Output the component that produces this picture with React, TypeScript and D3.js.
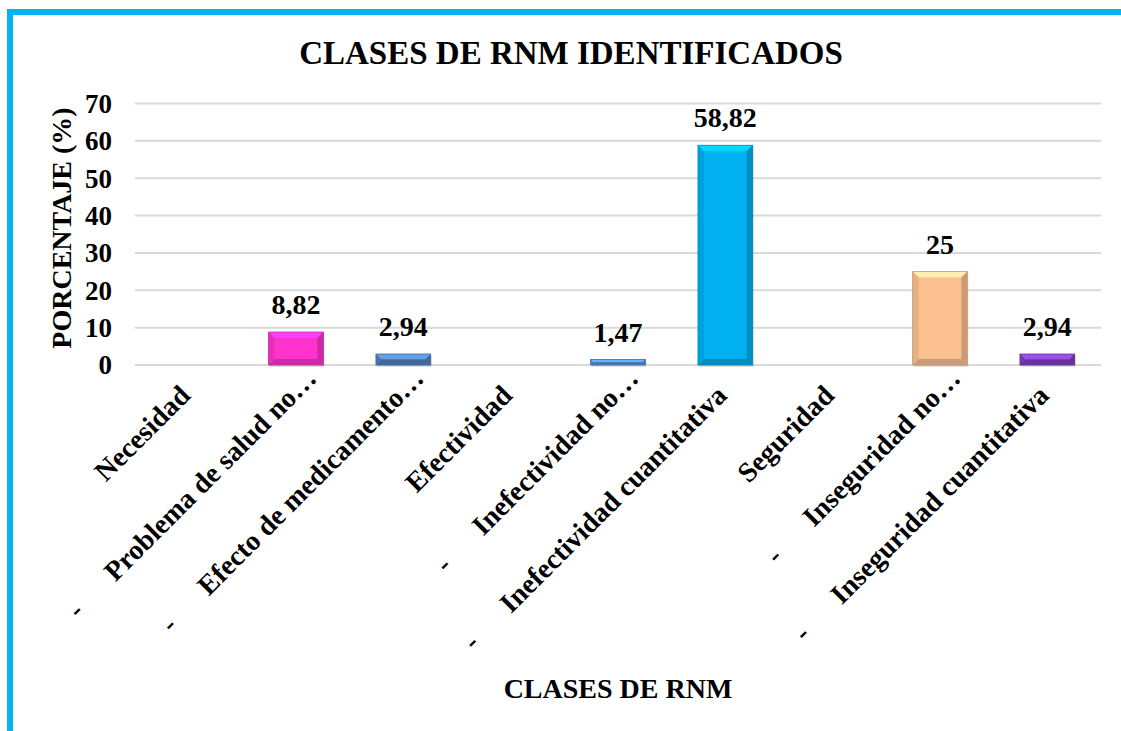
import React from 'react';
import * as d3 from 'd3';

// data
const categories = [
  'Necesidad',
  'Problema de salud no…',
  'Efecto de medicamento…',
  'Efectividad',
  'Inefectividad no…',
  'Inefectividad cuantitativa',
  'Seguridad',
  'Inseguridad no…',
  'Inseguridad cuantitativa',
];
const subItem = [false, true, true, false, true, true, false, true, true];
const values: (number | null)[] = [null, 8.82, 2.94, null, 1.47, 58.82, null, 25, 2.94];
const valueLabels = ['', '8,82', '2,94', '', '1,47', '58,82', '', '25', '2,94'];
const barColors = ['', '#FF33CC', '#4F81BD', '', '#558ED5', '#00B0F0', '', '#FAC090', '#7F3FBF'];
const yTicks = [0, 10, 20, 30, 40, 50, 60, 70];

const W = 1121;
const H = 731;
const FONT = '"Liberation Serif", "Times New Roman", serif';

const x = d3.scaleBand<string>().domain(categories).range([135, 1101]).paddingInner(0.49).paddingOuter(0.245);
const y = d3.scaleLinear().domain([0, 70]).range([365, 103.5]);

const Bar = ({ i }: { i: number }) => {
  const v = values[i];
  if (v == null) return null;
  const bx = x(categories[i]) as number;
  const bw = x.bandwidth();
  const by = y(v);
  const bh = y(0) - by;
  const c = d3.color(barColors[i]) as d3.RGBColor;
  const light = c.brighter(0.6).formatHex();
  const dark = c.darker(0.6).formatHex();
  const mid = c.darker(0.25).formatHex();
  const b = Math.min(6, bh / 2);
  return (
    <g>
      <rect x={bx + 1} y={by + 2} width={bw} height={bh} fill="#000" opacity={0.12} />
      <rect x={bx} y={by} width={bw} height={bh} fill={barColors[i]} />
      <polygon points={`${bx},${by} ${bx + bw},${by} ${bx + bw - b},${by + b} ${bx + b},${by + b}`} fill={light} />
      <polygon points={`${bx},${by + bh} ${bx + bw},${by + bh} ${bx + bw - b},${by + bh - b} ${bx + b},${by + bh - b}`} fill={dark} />
      <polygon points={`${bx},${by} ${bx + b},${by + b} ${bx + b},${by + bh - b} ${bx},${by + bh}`} fill={mid} />
      <polygon points={`${bx + bw},${by} ${bx + bw - b},${by + b} ${bx + bw - b},${by + bh - b} ${bx + bw},${by + bh}`} fill={dark} />
      <rect x={bx} y={by} width={bw} height={bh} fill="none" stroke={dark} strokeWidth={0.8} />
      <text
        x={bx + bw / 2}
        y={by - 18}
        textAnchor="middle"
        fontSize={28}
        fontWeight="bold"
        fontFamily={FONT}
      >
        {valueLabels[i]}
      </text>
    </g>
  );
};

const App = () => {
  return (
    <div style={{ position: 'absolute', left: 0, top: 0 }}>
      <svg width={W} height={H} style={{ display: 'block', background: '#fff' }}>
        <rect x={10} y={12} width={1200} height={800} fill="#fff" stroke="#00B4F0" strokeWidth={6} />

        <text x={571} y={64} textAnchor="middle" fontSize={33} fontWeight="bold" fontFamily={FONT}>
          CLASES DE RNM IDENTIFICADOS
        </text>

        {yTicks.map((t) => (
          <g key={t}>
            <line x1={135} x2={1101} y1={y(t)} y2={y(t)} stroke="#D9D9D9" strokeWidth={2} />
            <text
              x={112}
              y={y(t)}
              dy="0.35em"
              textAnchor="end"
              fontSize={27}
              fontWeight="bold"
              fontFamily={FONT}
            >
              {t}
            </text>
          </g>
        ))}

        <text
          transform="translate(71,228) rotate(-90)"
          textAnchor="middle"
          fontSize={28}
          fontWeight="bold"
          fontFamily={FONT}
        >
          PORCENTAJE (%)
        </text>

        {categories.map((_, i) => (
          <Bar key={i} i={i} />
        ))}

        {categories.map((cat, i) => {
          const cx = (x(cat) as number) + x.bandwidth() / 2;
          const truncated = cat.endsWith('…');
          const ax = truncated ? cx + 22 : cx + 3;
          const ay = truncated ? 380 : 397;
          return (
            <text
              key={cat}
              transform={`translate(${ax},${ay}) rotate(-45)`}
              textAnchor="end"
              fontSize={28}
              fontWeight="bold"
              fontFamily={FONT}
            >
              {subItem[i] ? (
                <>
                  <tspan>-</tspan>
                  <tspan dx={43}>{cat}</tspan>
                </>
              ) : (
                cat
              )}
            </text>
          );
        })}

        <text x={618} y={698} textAnchor="middle" fontSize={28} fontWeight="bold" fontFamily={FONT}>
          CLASES DE RNM
        </text>
      </svg>
    </div>
  );
};

export default App;
